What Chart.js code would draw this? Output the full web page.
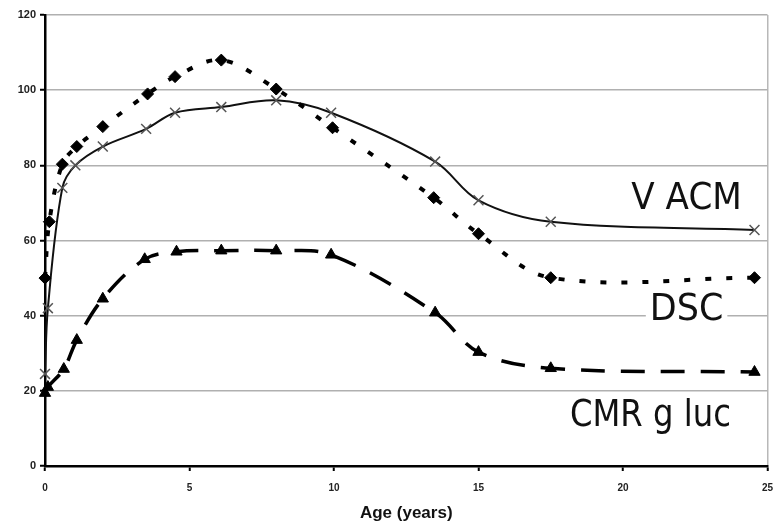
<!DOCTYPE html>
<html>
<head>
<meta charset="utf-8">
<script src="https://cdn.jsdelivr.net/npm/chart.js@4.4.1/dist/chart.umd.min.js"></script>
<style>
  html, body { margin: 0; padding: 0; background: #fff; }
  #wrap { width: 776px; height: 527px; position: relative; }
</style>
</head>
<body>
<div id="wrap"><canvas id="ageChart"></canvas></div>
<script>
// Age (years) of each measurement, one array per curve
const vacmAges = [0, 0.1, 0.6, 1.05, 2, 3.5, 4.5, 6.1, 8, 9.9, 13.5, 15, 17.5, 24.55];
const vacmValues = [24.5, 42, 74, 80, 85, 89.7, 94, 95.5, 97.3, 94, 81, 70.7, 65, 62.8];

const dscAges = [0, 0.15, 0.6, 1.1, 2, 3.55, 4.5, 6.1, 8, 9.95, 13.45, 15, 17.5, 24.55];
const dscValues = [50, 65, 80.3, 85, 90.3, 99, 103.6, 108, 100.3, 90, 71.4, 61.8, 50.1, 50.1];

const cmrAges = [0, 0.1, 0.65, 1.1, 2, 3.45, 4.55, 6.1, 8, 9.9, 13.5, 15, 17.5, 24.55];
const cmrValues = [19.4, 21, 25.8, 33.5, 44.5, 55, 57, 57.3, 57.3, 56.2, 40.8, 30.3, 26, 25];

const xTicks = [0, 5, 10, 15, 20, 25];
const yTicks = [0, 20, 40, 60, 80, 100, 120];

document.addEventListener('DOMContentLoaded', () => {
    const toPoints = (ages, vals) => ages.map((a, i) => ({ x: a, y: vals[i] }));

    // Big curve labels written inside the plot, like the original figure
    const curveLabels = {
        id: 'curveLabels',
        afterDatasetsDraw(chart) {
            const { ctx, scales } = chart;
            const items = [
                { text: 'V ACM', x: 22.2, y: 71.0, sx: 0.9, knockout: false },
                { text: 'DSC', x: 22.2, y: 41.6, sx: 0.92, knockout: true },
                { text: 'CMR g luc', x: 20.95, y: 13.2, sx: 0.85, knockout: false }
            ];
            ctx.save();
            ctx.font = '38px "DejaVu Sans"';
            ctx.textBaseline = 'middle';
            ctx.textAlign = 'center';
            items.forEach(it => {
                const px = scales.x.getPixelForValue(it.x);
                const py = scales.y.getPixelForValue(it.y);
                const w = ctx.measureText(it.text).width * it.sx;
                if (it.knockout) {
                    ctx.fillStyle = '#fff';
                    ctx.fillRect(px - w / 2 - 4, py - 16, w + 8, 32);
                }
                ctx.save();
                ctx.translate(px, py);
                ctx.scale(it.sx, 1);
                ctx.fillStyle = '#111';
                ctx.fillText(it.text, 0, 0);
                ctx.restore();
            });
            ctx.restore();
        }
    };

    // let the last x label run past the edge, as in the original
    const noEdgePad = (scale) => {
        scale.paddingLeft = 0;
        scale.paddingRight = 0;
    };

    const ctx = document.getElementById('ageChart').getContext('2d');
    new Chart(ctx, {
        type: 'line',
        data: {
            datasets: [
                {
                    label: 'CMR gluc',
                    data: toPoints(cmrAges, cmrValues),
                    borderColor: '#000',
                    borderWidth: 3.5,
                    borderDash: [24, 16],
                    pointStyle: 'triangle',
                    pointRadius: 6.5,
                    pointBackgroundColor: '#000',
                    pointBorderColor: '#000',
                    pointBorderWidth: 1,
                    tension: 0.35,
                    fill: false,
                    clip: false
                },
                {
                    label: 'DSC',
                    data: toPoints(dscAges, dscValues),
                    borderColor: '#000',
                    borderWidth: 4,
                    borderDash: [6, 15],
                    pointStyle: 'rectRot',
                    pointRadius: 6,
                    pointBackgroundColor: '#000',
                    pointBorderColor: '#000',
                    pointBorderWidth: 1,
                    tension: 0.35,
                    fill: false,
                    clip: false
                },
                {
                    label: 'V ACM',
                    data: toPoints(vacmAges, vacmValues),
                    borderColor: '#111',
                    borderWidth: 2,
                    pointStyle: 'crossRot',
                    pointRadius: 7,
                    pointBorderColor: '#555',
                    pointBorderWidth: 1.5,
                    tension: 0.35,
                    fill: false,
                    clip: false
                }
            ]
        },
        options: {
            responsive: true,
            maintainAspectRatio: false,
            animation: false,
            layout: { padding: { top: 15, right: 6, left: 0, bottom: 0 } },
            plugins: {
                legend: { display: false },
                tooltip: { enabled: false }
            },
            scales: {
                x: {
                    type: 'linear',
                    min: 0,
                    max: 25,
                    afterBuildTicks: (scale) => { scale.ticks = xTicks.map(v => ({ value: v })); },
                    afterFit: (scale) => {
                        scale.height = 61;
                        noEdgePad(scale);
                    },
                    afterUpdate: noEdgePad,
                    grid: {
                        color: (c) => c.tick && c.tick.value === 25 ? '#b8b8b8' : 'rgba(0,0,0,0)',
                        lineWidth: 1.5,
                        tickColor: '#000',
                        tickLength: 5,
                        tickWidth: 2
                    },
                    border: { color: '#000', width: 2.5 },
                    ticks: {
                        color: '#222',
                        padding: 11,
                        maxRotation: 0,
                        font: { family: 'Liberation Sans', size: 10, weight: 'bold' }
                    },
                    title: {
                        display: true,
                        text: 'Age (years)',
                        color: '#111',
                        font: { family: 'Liberation Sans', size: 17, weight: 'bold' },
                        padding: { top: 0, bottom: 3 }
                    }
                },
                y: {
                    min: 0,
                    max: 120,
                    afterBuildTicks: (scale) => { scale.ticks = yTicks.map(v => ({ value: v })); },
                    afterFit: (scale) => { scale.width = 45; },
                    grid: {
                        color: '#b0b0b0',
                        lineWidth: 1.5,
                        tickColor: '#000',
                        tickLength: 5,
                        tickWidth: 2
                    },
                    border: { color: '#000', width: 2.5 },
                    ticks: {
                        color: '#222',
                        padding: 4,
                        font: { family: 'Liberation Sans', size: 11, weight: 'bold' }
                    }
                }
            }
        },
        plugins: [curveLabels]
    });
});
</script>
</body>
</html>
